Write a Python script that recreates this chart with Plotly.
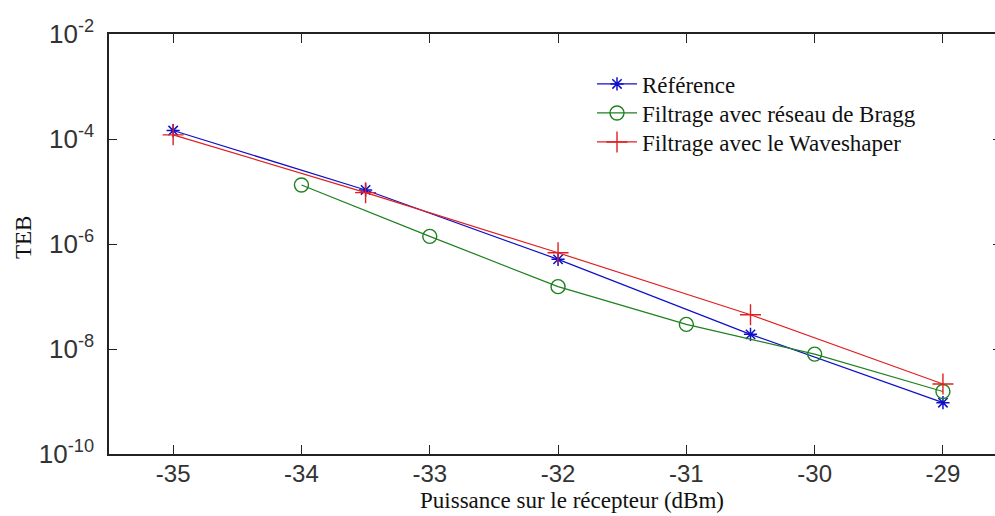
import plotly.graph_objects as go

# Data
x_ref = [-35, -33.5, -32, -30.5, -29]
y_ref = [1.45e-4, 1.07e-5, 5.1e-7, 1.9e-8, 9.5e-10]

x_bragg = [-34, -33, -32, -31, -30, -29]
y_bragg = [1.33e-5, 1.4e-6, 1.54e-7, 2.95e-8, 8e-9, 1.55e-9]

x_wave = [-35, -33.5, -32, -30.5, -29]
y_wave = [1.2e-4, 9.5e-6, 6.8e-7, 4.5e-8, 2.15e-9]

names = ["Référence", "Filtrage avec réseau de Bragg", "Filtrage avec le Waveshaper"]

x_ticks = [-35, -34, -33, -32, -31, -30, -29]
y_tickvals = [1e-10, 1e-8, 1e-6, 1e-4, 1e-2]
y_ticktext = ["10<sup>-10</sup>", "10<sup>-8</sup>", "10<sup>-6</sup>", "10<sup>-4</sup>", "10<sup>-2</sup>"]

# The figure is slightly wider than the window: its right frame edge falls just off-screen
W, H = 1001, 516
L, T, B, R = 109, 34, 62, 0
px_per_unit = 128.3
x_range = [-35.5, -35.5 + (W - L - R) / px_per_unit]
plot_w = W - L - R
plot_h = H - T - B

fig = go.Figure()
fig.add_trace(go.Scatter(x=x_ref, y=y_ref, name=names[0], mode="lines+markers", legend="legend",
                         line=dict(color="#1010c8", width=1.2),
                         marker=dict(symbol="asterisk-open", size=11,
                                     line=dict(color="#1010c8", width=1.5))))
fig.add_trace(go.Scatter(x=x_bragg, y=y_bragg, name=names[1], mode="lines+markers", legend="legend2",
                         line=dict(color="#1e801e", width=1.2),
                         marker=dict(symbol="circle-open", size=14,
                                     line=dict(color="#1e801e", width=1.4))))
fig.add_trace(go.Scatter(x=x_wave, y=y_wave, name=names[2], mode="lines+markers", legend="legend3",
                         line=dict(color="#e02020", width=1.2),
                         marker=dict(symbol="cross-thin-open", size=15,
                                     line=dict(color="#e02020", width=1.4))))

row_y = [84, 113, 142]
leg_common = dict(xanchor="left", yanchor="middle", bgcolor="rgba(0,0,0,0)", borderwidth=0,
                  font=dict(family="Liberation Serif", size=23, color="#111"), itemwidth=40)
legends = {}
for i, key in enumerate(["legend", "legend2", "legend3"]):
    legends[key] = dict(x=(592 - L) / plot_w, y=(H - B - row_y[i]) / plot_h, **leg_common)

fig.update_layout(
    width=W, height=H,
    margin=dict(l=L, r=R, t=T, b=B, pad=0, autoexpand=False),
    paper_bgcolor="white", plot_bgcolor="white",
    showlegend=True,
    **legends,
    xaxis=dict(range=x_range, tickvals=x_ticks, ticktext=[str(v) for v in x_ticks],
               ticks="inside", ticklen=9, tickwidth=1.2, tickcolor="#222",
               showline=True, linecolor="#222", linewidth=1.5, mirror="ticks",
               showgrid=False, zeroline=False, ticklabelstandoff=-3, automargin=False,
               tickfont=dict(family="Liberation Sans", size=24, color="#333")),
    yaxis=dict(type="log", range=[-10, -2], tickvals=y_tickvals, ticktext=y_ticktext,
               ticks="inside", ticklen=8, tickwidth=1.2, tickcolor="#222",
               showline=True, linecolor="#222", linewidth=1.5, mirror="ticks",
               showgrid=False, zeroline=False, ticklabelstandoff=8, automargin=False,
               tickfont=dict(family="Liberation Sans", size=26, color="#333")),
    annotations=[
        dict(text="Puissance sur le récepteur (dBm)", xref="paper", yref="paper",
             x=(572 - L) / plot_w, y=(H - B - 500) / plot_h, xanchor="center", yanchor="middle",
             showarrow=False, font=dict(family="Liberation Serif", size=23, color="#111")),
        dict(text="TEB", xref="paper", yref="paper",
             x=(23 - L) / plot_w, y=(H - B - 238) / plot_h, xanchor="center", yanchor="middle",
             textangle=-90, showarrow=False,
             font=dict(family="Liberation Serif", size=23, color="#111")),
    ],
)

fig.write_html("out.html", config={"displayModeBar": False},
               post_script="document.body.style.margin='0px';document.body.style.padding='0px';"
                           "document.documentElement.style.overflow='hidden';document.body.style.overflow='hidden';")
